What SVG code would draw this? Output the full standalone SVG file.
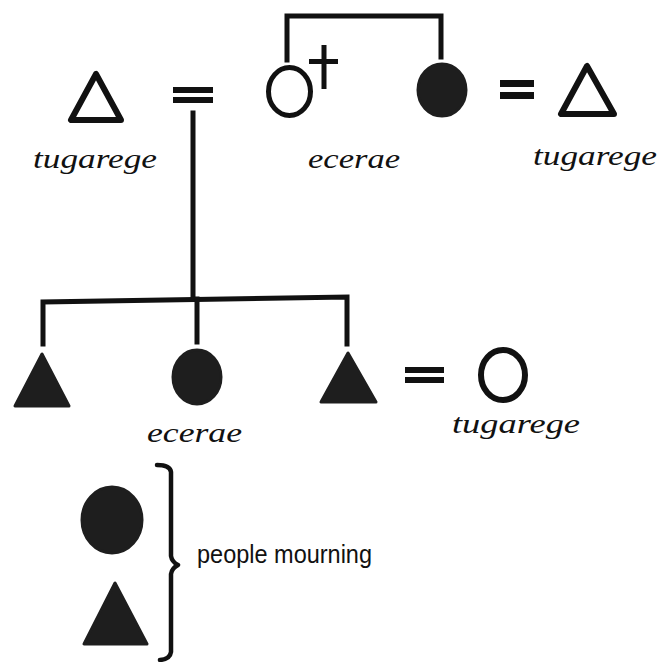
<svg xmlns="http://www.w3.org/2000/svg" width="663" height="662" viewBox="0 0 663 662">
<style>
.bg{fill:#ffffff}
.line{fill:none;stroke:#111;stroke-width:5;stroke-linecap:square;stroke-linejoin:miter}
.open{fill:none;stroke:#111;stroke-width:6;stroke-linejoin:round}
.solid{fill:#1e1e1e;stroke:#1e1e1e;stroke-width:3;stroke-linejoin:round}
.eq{fill:#111}
.script{font-family:"Liberation Serif","DejaVu Serif",serif;font-style:italic;font-size:28px;fill:#111}
.label{font-family:"Liberation Sans","DejaVu Sans",sans-serif;font-size:26px;fill:#111}
.brace{fill:none;stroke:#111;stroke-width:4.5;stroke-linejoin:round;stroke-linecap:round}
</style>
<rect class="bg" x="0" y="0" width="663" height="662"/>

<g id="connectors">
  <path class="line" d="M287,60 V16 H441 V57"/>
  <path class="line" d="M193,113 V299"/>
  <path class="line" d="M43,344 V302 L347,297 V344"/>
  <path class="line" d="M197,299 V342"/>
</g>

<g id="node-husband-left">
  <path class="open" d="M96,74 L71,120 L121,120 Z"/>
  <text class="script" x="33" y="168" textLength="124" lengthAdjust="spacingAndGlyphs">tugarege</text>
</g>
<g id="marriage-left">
  <rect class="eq" x="173" y="87" width="40" height="6"/>
  <rect class="eq" x="173" y="97" width="40" height="6"/>
</g>
<g id="node-deceased-wife">
  <ellipse class="open" cx="289.5" cy="91.5" rx="21" ry="24" style="stroke-width:5"/>
  <path class="line" d="M324,45 V89 M309,61.5 H338" style="stroke-linecap:butt"/>
  <text class="script" x="308" y="168" textLength="92" lengthAdjust="spacingAndGlyphs">ecerae</text>
</g>
<g id="node-sister">
  <ellipse class="solid" cx="442" cy="90" rx="24" ry="26"/>
</g>
<g id="marriage-right">
  <rect class="eq" x="500" y="80" width="34" height="7"/>
  <rect class="eq" x="500" y="92" width="34" height="7"/>
</g>
<g id="node-husband-right">
  <path class="open" d="M587,66 L561,114 L614,114 Z"/>
  <text class="script" x="533" y="165" textLength="124" lengthAdjust="spacingAndGlyphs">tugarege</text>
</g>

<g id="node-son-1">
  <path class="solid" d="M42,354 L15,406 L69,406 Z"/>
</g>
<g id="node-daughter">
  <ellipse class="solid" cx="197" cy="377" rx="24" ry="27"/>
  <text class="script" x="147" y="442" textLength="95" lengthAdjust="spacingAndGlyphs">ecerae</text>
</g>
<g id="node-son-2">
  <path class="solid" d="M348,353 L321,402 L376,402 Z"/>
</g>
<g id="marriage-bottom">
  <rect class="eq" x="405" y="367" width="39" height="6"/>
  <rect class="eq" x="405" y="377" width="39" height="6"/>
</g>
<g id="node-son-wife">
  <ellipse class="open" cx="503" cy="375" rx="22" ry="25"/>
  <text class="script" x="452" y="433" textLength="128" lengthAdjust="spacingAndGlyphs">tugarege</text>
</g>

<g id="legend">
  <ellipse class="solid" cx="112" cy="520" rx="30" ry="33"/>
  <path class="solid" d="M115,583 L84,644 L147,644 Z"/>
  <path class="brace" d="M157,465 Q170,465 171,472 V556 Q172,562 178,565 Q172,568 171,574 V652 Q170,659 160,660"/>
  <text class="label" x="197" y="563" textLength="175" lengthAdjust="spacingAndGlyphs">people mourning</text>
</g>
</svg>
